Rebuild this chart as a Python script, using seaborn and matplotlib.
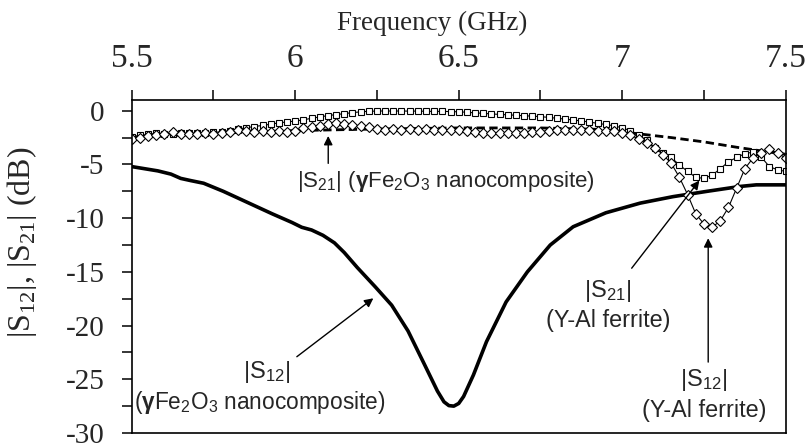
import numpy as np
import pandas as pd
import matplotlib
matplotlib.use("Agg")
import matplotlib.pyplot as plt
from matplotlib.ticker import MultipleLocator, FixedLocator, FixedFormatter
import seaborn as sns

# ---------------- data ----------------
freq_sweep = [5.5, 5.525, 5.55, 5.575, 5.6, 5.625, 5.65, 5.675, 5.7, 5.725,
              5.75, 5.775, 5.8, 5.825, 5.85, 5.875, 5.9, 5.925, 5.95, 5.975,
              6.0, 6.025, 6.05, 6.075, 6.1, 6.125, 6.15, 6.175, 6.2, 6.225,
              6.25, 6.275, 6.3, 6.325, 6.35, 6.375, 6.4, 6.425, 6.45, 6.475,
              6.5, 6.525, 6.55, 6.575, 6.6, 6.625, 6.65, 6.675, 6.7, 6.725,
              6.75, 6.775, 6.8, 6.825, 6.85, 6.875, 6.9, 6.925, 6.95, 6.975,
              7.0, 7.025, 7.05, 7.075, 7.1, 7.125, 7.15, 7.175, 7.2, 7.225,
              7.25, 7.275, 7.3, 7.325, 7.35, 7.375, 7.4, 7.425, 7.45, 7.475, 7.5]

s21_yal = [-2.40, -2.30, -2.20, -2.10, -2.12, -2.15, -2.10, -2.08, -2.08, -2.05,
           -2.02, -1.95, -1.85, -1.72, -1.58, -1.47, -1.37, -1.25, -1.13, -1.04,
           -0.96, -0.85, -0.70, -0.58, -0.45, -0.36, -0.27, -0.18, -0.10, -0.05,
           -0.03, -0.02, -0.03, -0.02, -0.04, -0.03, -0.05, -0.06, -0.06, -0.08,
           -0.10, -0.14, -0.20, -0.24, -0.30, -0.34, -0.38, -0.42, -0.47, -0.50,
           -0.55, -0.62, -0.70, -0.78, -0.86, -0.95, -1.05, -1.18, -1.28, -1.40,
           -1.60, -1.85, -2.30, -2.75, -3.45, -3.95, -4.35, -5.05, -5.65, -6.20,
           -6.30, -6.00, -5.40, -4.75, -4.35, -4.00, -3.85, -4.30, -5.20, -5.50, -5.65]

s12_yal = [-2.65, -2.50, -2.35, -2.25, -2.20, -2.00, -2.15, -2.20, -2.15, -2.10,
           -2.12, -2.05, -1.95, -1.80, -1.85, -1.95, -1.90, -1.95, -1.93, -1.95,
           -1.85, -1.65, -1.50, -1.40, -1.28, -1.15, -1.20, -1.30, -1.45, -1.55,
           -1.70, -1.75, -1.72, -1.80, -1.70, -1.78, -1.72, -1.80, -1.75, -1.82,
           -1.80, -1.85, -2.00, -2.05, -2.10, -2.05, -2.10, -2.05, -2.08, -2.00,
           -1.95, -1.85, -1.78, -1.75, -1.75, -1.80, -1.80, -1.85, -1.88, -1.93,
           -2.05, -2.30, -2.60, -3.00, -3.45, -4.10, -4.90, -6.20, -7.80, -9.60,
           -10.55, -10.85, -10.25, -9.00, -7.20, -5.40, -4.40, -3.95, -3.60, -3.95, -4.40]

freq_s21_nano = [5.5, 5.75, 6.0, 6.25, 6.5, 6.75, 6.95, 7.05, 7.15, 7.25, 7.35, 7.45, 7.5]
s21_nano = [-2.5, -2.1, -1.85, -1.7, -1.6, -1.6, -1.75, -2.15, -2.5, -2.9, -3.4, -3.85, -4.05]

freq_s12_nano = [5.5, 5.55, 5.58, 5.62, 5.65, 5.68, 5.72, 5.78, 5.83, 5.88,
                 5.93, 5.99, 6.02, 6.05, 6.085, 6.12, 6.15, 6.19, 6.245, 6.295,
                 6.345, 6.395, 6.435, 6.455, 6.47, 6.485, 6.5, 6.515, 6.545, 6.585,
                 6.645, 6.71, 6.78, 6.85, 6.95, 7.055, 7.155, 7.26, 7.36, 7.41, 7.5]
s12_nano = [-5.2, -5.45, -5.6, -5.9, -6.3, -6.5, -6.75, -7.5, -8.2, -8.9,
            -9.6, -10.4, -10.85, -11.1, -11.6, -12.3, -13.2, -14.6, -16.4, -18.1,
            -20.5, -23.6, -26.1, -27.1, -27.45, -27.5, -27.25, -26.6, -24.6, -21.5,
            -17.8, -15.0, -12.5, -10.8, -9.5, -8.6, -8.0, -7.5, -7.05, -6.9, -6.9]

x_ticks = [5.5, 6.0, 6.5, 7.0, 7.5]
x_ticklabels = ["5.5", "6", "6.5", "7", "7.5"]
y_ticks = [0, -5, -10, -15, -20, -25, -30]
y_ticklabels = ["0", "-5", "-10", "-15", "-20", "-25", "-30"]

# ---------------- style ----------------
sns.set_theme(style="ticks")
plt.rcParams["font.family"] = ["Liberation Serif", "DejaVu Serif"]
plt.rcParams["mathtext.fontset"] = "custom"
plt.rcParams["mathtext.rm"] = "Liberation Serif"
plt.rcParams["mathtext.sf"] = "Liberation Sans"
plt.rcParams["mathtext.bf"] = "Liberation Sans:bold"
plt.rcParams["mathtext.it"] = "Liberation Sans:italic"
plt.rcParams["axes.unicode_minus"] = False

fig = plt.figure(figsize=(8.07, 4.48), dpi=100)
ax = fig.add_axes([0.1632, 0.0335, 0.8104, 0.7433])

df_sq = pd.DataFrame({"f": freq_sweep, "v": s21_yal})
df_di = pd.DataFrame({"f": freq_sweep, "v": s12_yal})
df_da = pd.DataFrame({"f": freq_s21_nano, "v": s21_nano})
df_so = pd.DataFrame({"f": freq_s12_nano, "v": s12_nano})

sns.lineplot(data=df_so, x="f", y="v", ax=ax, color="black", linewidth=2.6,
             errorbar=None, sort=False)
sns.lineplot(data=df_da, x="f", y="v", ax=ax, color="black", linewidth=2.0,
             linestyle=(0, (3, 1.6)), errorbar=None, sort=False)
sns.lineplot(data=df_sq, x="f", y="v", ax=ax, color="black", linewidth=0.8,
             marker="s", markersize=4, markerfacecolor="white",
             markeredgecolor="black", markeredgewidth=0.8, errorbar=None, sort=False)
sns.lineplot(data=df_di, x="f", y="v", ax=ax, color="black", linewidth=0.8,
             marker="D", markersize=5.3, markerfacecolor="white",
             markeredgecolor="black", markeredgewidth=0.8, errorbar=None, sort=False)

ax.set_xlim(5.5, 7.5)
ax.set_ylim(-30, 1.0)

ax.xaxis.tick_top()
ax.xaxis.set_label_position("top")
ax.xaxis.set_major_locator(FixedLocator(x_ticks))
ax.xaxis.set_major_formatter(FixedFormatter(x_ticklabels))
ax.xaxis.set_minor_locator(MultipleLocator(0.25))
ax.yaxis.set_major_locator(FixedLocator(y_ticks))
ax.yaxis.set_major_formatter(FixedFormatter(y_ticklabels))
ax.yaxis.set_minor_locator(MultipleLocator(2.5))
ax.tick_params(which="both", direction="out", length=7.5, width=1.1, color="black")
ax.tick_params(axis="x", which="major", labelsize=24, pad=11)
ax.tick_params(axis="y", which="major", labelsize=21, pad=12)
for sp in ax.spines.values():
    sp.set_linewidth(1.2)
    sp.set_color("black")
    sp.set_visible(True)

ax.set_xlabel("Frequency (GHz)", fontsize=19.5)
ax.set_ylabel(r"|S$_{\mathrm{12}}$|, |S$_{\mathrm{21}}$| (dB)", fontsize=23)
ax.xaxis.set_label_coords(0.46, 1.21)
ax.yaxis.set_label_coords(-0.142, 0.574)

# ---------------- annotations ----------------
sans = "Liberation Sans"
arrow = dict(arrowstyle="-|>", color="black", lw=1.0, mutation_scale=13,
             shrinkA=0, shrinkB=0)

ax.annotate("", xy=(6.101, -2.35), xytext=(6.101, -4.9), arrowprops=arrow)
ax.text(6.005, -6.6,
        r"|S$_{\mathsf{21}}$| ($\mathbf{\gamma}$Fe$_{\mathsf{2}}$O$_{\mathsf{3}}$ nanocomposite)",
        family=sans, fontsize=16, ha="left", va="center")

ax.annotate("", xy=(6.239, -17.46), xytext=(6.005, -22.9), arrowprops=arrow)
ax.text(5.913, -24.3, r"|S$_{\mathsf{12}}$|", family=sans, fontsize=17, ha="center", va="center")
ax.text(5.892, -27.2,
        r"($\mathbf{\gamma}$Fe$_{\mathsf{2}}$O$_{\mathsf{3}}$ nanocomposite)",
        family=sans, fontsize=16.3, ha="center", va="center")

ax.annotate("", xy=(7.236, -6.5), xytext=(7.029, -14.66), arrowprops=arrow)
ax.text(6.955, -16.8, r"|S$_{\mathsf{21}}$|", family=sans, fontsize=17, ha="center", va="center")
ax.text(6.957, -19.5, "(Y-Al ferrite)", family=sans, fontsize=16.8, ha="center", va="center")

ax.annotate("", xy=(7.263, -11.87), xytext=(7.263, -23.4), arrowprops=arrow)
ax.text(7.248, -25.1, r"|S$_{\mathsf{12}}$|", family=sans, fontsize=17, ha="center", va="center")
ax.text(7.25, -27.9, "(Y-Al ferrite)", family=sans, fontsize=16.8, ha="center", va="center")

fig.savefig("out.png", dpi=100, facecolor="white")
